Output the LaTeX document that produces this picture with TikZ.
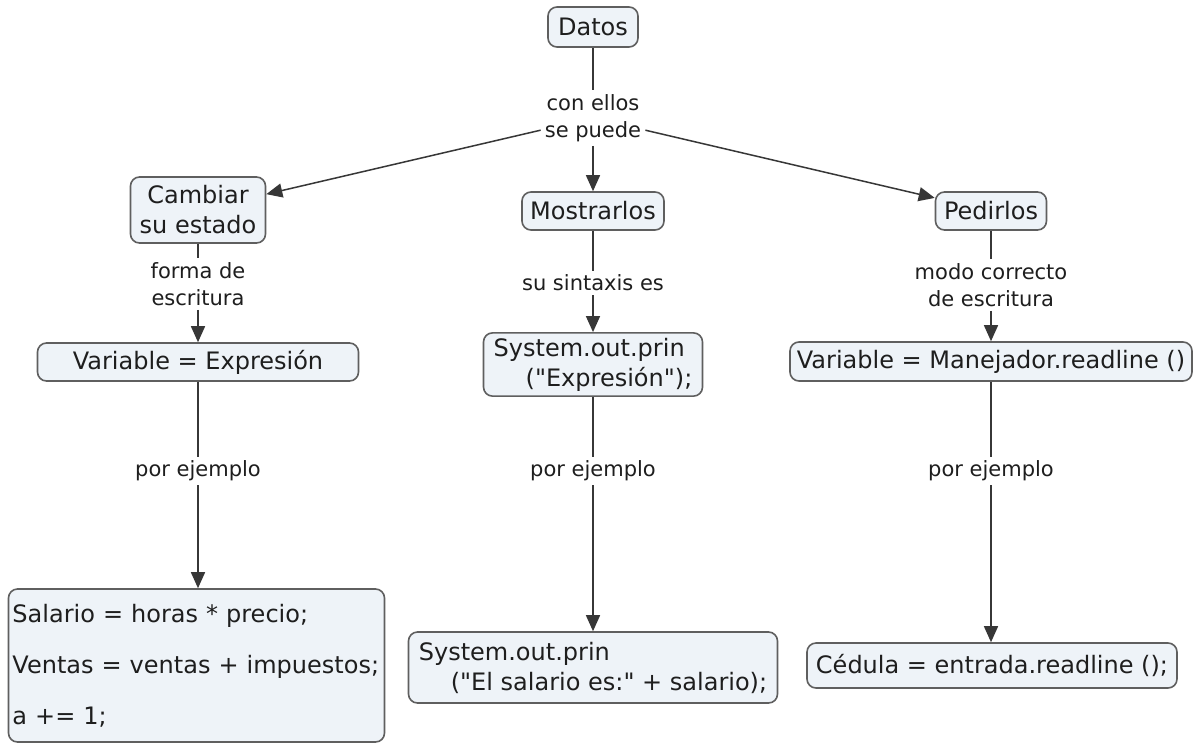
\documentclass[tikz,border=0pt]{standalone}
\usepackage{fontspec}
\setmainfont{DejaVu Sans}[Ligatures=TeXOff]
\usepackage{xcolor}
\usepackage{tikz}
\usetikzlibrary{arrows.meta, positioning}
\definecolor{MapFill}{RGB}{238, 243, 248}
\definecolor{MapBorder}{RGB}{95, 95, 95}
\definecolor{MapLine}{RGB}{55, 55, 55}
\definecolor{MapText}{RGB}{30, 30, 30}

\tikzset{
  concept/.style={draw=MapBorder, fill=MapFill, rounded corners=9pt,
    line width=1.6pt, text=MapText, inner sep=5pt,
    font=\fontsize{24}{30}\selectfont, align=center},
  linkword/.style={fill=white, text=MapText, inner sep=4pt,
    font=\fontsize{21}{27}\selectfont, align=center},
  joinline/.style={draw=MapLine, line width=1.5pt},
  joinarrow/.style={joinline, -{Triangle[length=16pt,width=14pt]}}
}

\begin{document}
\begin{tikzpicture}[x=1pt, y=-1pt]
    \useasboundingbox[fill=white] (0,0) rectangle (1193,742);

    % conceptos
    \node[concept, minimum width=90pt, minimum height=40pt] (datos) at (593,27) {Datos};
    \node[concept, minimum width=135pt, minimum height=66pt] (cambiar) at (198,210) {Cambiar\\su estado};
    \node[concept, minimum width=142pt, minimum height=38pt] (mostrar) at (593,211) {Mostrarlos};
    \node[concept, minimum width=111pt, minimum height=38pt] (pedir) at (991,211) {Pedirlos};
    \node[concept, minimum width=321pt, minimum height=38pt] (varexp) at (198,362) {Variable = Expresión};
    \node[concept, minimum width=219pt, minimum height=63pt, align=left] (printexp) at (593,364.5)
      {System.out.prin\\\hspace*{32pt}("Expresión");};
    \node[concept, minimum width=402pt, minimum height=39pt] (varman) at (991,361.5) {Variable = Manejador.readline ()};
    \node[concept, text width=368pt, inner xsep=4pt, minimum height=153pt, align=left,
      font=\fontsize{24}{51}\selectfont] (ejemplos) at (196.5,665.5)
      {Salario = horas * precio;\\Ventas = ventas + impuestos;\\a += 1;};
    \node[concept, minimum width=369pt, minimum height=71pt, align=left] (printsal) at (593,667.5)
      {System.out.prin\\\hspace*{32pt}("El salario es:" + salario);};
    \node[concept, minimum width=370pt, minimum height=45pt] (cedula) at (992,665.5) {Cédula = entrada.readline ();};

    % palabras de enlace
    \node[linkword] (conellos) at (593,118) {con ellos\\se puede};
    \node[linkword] (forma) at (198,284) {forma de\\escritura};
    \node[linkword] (sintaxis) at (593,283) {su sintaxis es};
    \node[linkword] (modo) at (991,285) {modo correcto\\de escritura};
    \node[linkword] (ejizq) at (198,471) {por ejemplo};
    \node[linkword] (ejcen) at (593,471) {por ejemplo};
    \node[linkword] (ejder) at (991,471) {por ejemplo};

    % conectores
    \draw[joinline] (datos) -- (conellos);
    \draw[joinarrow] (conellos) -- (cambiar);
    \draw[joinarrow] (conellos) -- (mostrar);
    \draw[joinarrow] (conellos) -- (pedir);

    \draw[joinline] (cambiar) -- (forma);
    \draw[joinarrow] (forma) -- (varexp);
    \draw[joinline] (mostrar) -- (sintaxis);
    \draw[joinarrow] (sintaxis) -- (printexp);
    \draw[joinline] (pedir) -- (modo);
    \draw[joinarrow] (modo) -- (varman);

    \draw[joinline] (varexp) -- (ejizq);
    \draw[joinarrow] (ejizq) -- (ejemplos.north -| ejizq);
    \draw[joinline] (printexp) -- (ejcen);
    \draw[joinarrow] (ejcen) -- (printsal);
    \draw[joinline] (varman) -- (ejder);
    \draw[joinarrow] (ejder) -- (cedula.north -| ejder);
\end{tikzpicture}
\end{document}
